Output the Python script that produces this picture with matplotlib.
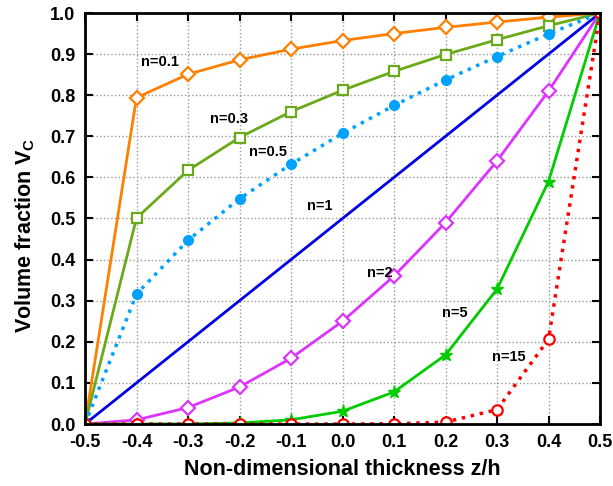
import matplotlib.pyplot as plt

plt.rcParams['font.family'] = ['Liberation Sans', 'DejaVu Sans']
plt.rcParams['font.weight'] = 'bold'
plt.rcParams['mathtext.fontset'] = 'custom'
plt.rcParams['mathtext.rm'] = 'Liberation Sans:bold'
plt.rcParams['mathtext.bf'] = 'Liberation Sans:bold'

# координата по товщині
z = [-0.5, -0.4, -0.3, -0.2, -0.1, 0.0, 0.1, 0.2, 0.3, 0.4, 0.5]

# об'ємна частка для різних n
v_n01 = [0.0, 0.794, 0.851, 0.886, 0.912, 0.933, 0.950, 0.965, 0.978, 0.990, 1.0]
v_n03 = [0.0, 0.501, 0.617, 0.697, 0.760, 0.812, 0.858, 0.899, 0.935, 0.969, 1.0]
v_n05 = [0.0, 0.316, 0.447, 0.548, 0.632, 0.707, 0.775, 0.837, 0.894, 0.949, 1.0]
v_n1 = [0.0, 0.1, 0.2, 0.3, 0.4, 0.5, 0.6, 0.7, 0.8, 0.9, 1.0]
v_n2 = [0.0, 0.01, 0.04, 0.09, 0.16, 0.25, 0.36, 0.49, 0.64, 0.81, 1.0]
v_n5 = [0.0, 0.0, 0.0003, 0.0024, 0.0102, 0.031, 0.078, 0.168, 0.328, 0.590, 1.0]
v_n15 = [0.0, 0.0, 0.0, 0.0, 0.0, 0.0, 0.0005, 0.0047, 0.035, 0.206, 1.0]

x_ticks = [-0.5, -0.4, -0.3, -0.2, -0.1, 0.0, 0.1, 0.2, 0.3, 0.4, 0.5]
y_ticks = [0.0, 0.1, 0.2, 0.3, 0.4, 0.5, 0.6, 0.7, 0.8, 0.9, 1.0]

fig = plt.figure(figsize=(6.13, 4.86), dpi=100)
ax = fig.add_axes([85 / 613, 62 / 486, 515 / 613, 411 / 486])

ax.plot(z, v_n01, color='#ff7f00', lw=2, marker='D', ms=7.5, mfc='white', mew=1.6)
ax.plot(z, v_n03, color='#6aaa1a', lw=2, marker='s', ms=6.5, mfc='white', mew=1.6)
ax.plot(z, v_n05, color='#00a2ff', lw=2.5, ls=':', marker='o', ms=7, mec='#00a2ff')
ax.plot(z, v_n1, color='#0000e6', lw=2)
ax.plot(z, v_n2, color='#dd33ff', lw=2, marker='D', ms=7.5, mfc='white', mew=1.6)
ax.plot(z, v_n5, color='#00cc00', lw=2, marker='*', ms=9.5)
ax.plot(z, v_n15, color='#ff0000', lw=2.5, ls=':', marker='o', ms=7.5, mfc='white', mew=1.6)

labels = [('n=0.1', -0.354, 0.881), ('n=0.3', -0.220, 0.742),
          ('n=0.5', -0.145, 0.662), ('n=1', -0.044, 0.530),
          ('n=2', 0.073, 0.367), ('n=5', 0.218, 0.270), ('n=15', 0.323, 0.163)]
for txt, lx, ly in labels:
    ax.text(lx, ly, txt, ha='center', va='center', fontsize=10.5, fontweight='bold')

ax.set_xlim(-0.5, 0.5)
ax.set_ylim(0, 1)
ax.set_xticks(x_ticks)
ax.set_yticks(y_ticks)
ax.set_xticklabels([f'{t:.1f}' for t in x_ticks], fontweight='bold')
ax.set_yticklabels([f'{t:.1f}' for t in y_ticks], fontweight='bold')
ax.tick_params(direction='in', top=True, right=True, length=6, width=1.5,
               labelsize=13, pad=7)
ax.grid(True, ls=':', color='#999999', lw=1)
for s in ax.spines.values():
    s.set_linewidth(2)

ax.set_xlabel('Non-dimensional thickness z/h', fontsize=15.5, fontweight='bold',
              labelpad=6)
ax.set_ylabel('Volume fraction V$_\\mathbf{C}$', fontsize=15.5, fontweight='bold')
ax.yaxis.set_label_coords(-0.093, 0.46)

fig.savefig('out.png', dpi=100)
